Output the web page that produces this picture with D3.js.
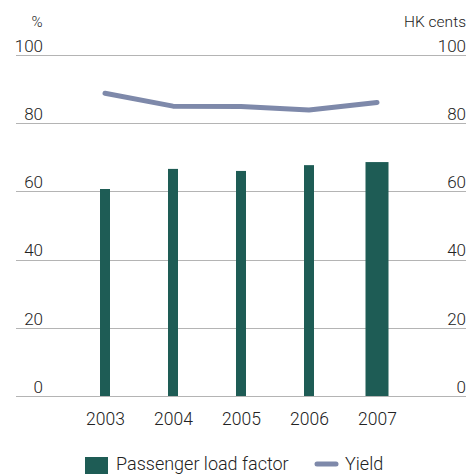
<!DOCTYPE html>
<html>
<head>
<meta charset="utf-8">
<script src="https://cdn.jsdelivr.net/npm/d3@7"></script>
<style>
  html, body { margin: 0; padding: 0; background: #fff; }
  svg { display: block; font-family: Roboto, "Liberation Sans", sans-serif; font-weight: 300; }
</style>
</head>
<body>
<svg id="chart" width="468" height="474"></svg>
<script>
// Passenger load factor (%) and yield (HK cents), 2003–2007
const years = ["2003", "2004", "2005", "2006", "2007"];
const loadFactor = [60.7, 66.6, 66.0, 67.7, 68.6];
const yieldCents = [88.8, 85.0, 84.9, 83.9, 86.1];
const ticks = [0, 20, 40, 60, 80, 100];

const svg = d3.select("#chart");
const textColor = "#222";
const barColor = "#1e5c55";
const lineColor = "#7e89aa";
const gridColor = "#b4b4b4";

const left = 16, right = 466;
const y = d3.scaleLinear().domain([0, 100]).range([396, 55]);
const x = d3.scalePoint().domain(years).range([105, 377]);

// Grid lines
svg.append("g").selectAll("line").data(ticks).join("line")
  .attr("x1", left).attr("x2", right)
  .attr("y1", d => Math.round(y(d)) + 0.5).attr("y2", d => Math.round(y(d)) + 0.5)
  .attr("stroke", gridColor).attr("stroke-width", 1.2);

// Left and right tick labels
const leftAxis = d3.axisLeft(y).tickValues(ticks).tickSize(0).tickPadding(0);
const gl = svg.append("g").attr("transform", "translate(43,0)").call(leftAxis);
const rightAxis = d3.axisLeft(y).tickValues(ticks).tickSize(0).tickPadding(0);
const gr = svg.append("g").attr("transform", `translate(${right},0)`).call(rightAxis);
[gl, gr].forEach(g => {
  g.select(".domain").remove();
  g.selectAll("text")
    .attr("dy", "-0.22em")
    .attr("fill", textColor)
    .style("font-size", "17px")
    .style("font-family", "Roboto, 'Liberation Sans', sans-serif")
    .style("font-weight", 300);
});

// Unit labels
svg.append("text").attr("x", 37).attr("y", 27).attr("text-anchor", "middle")
  .attr("fill", textColor).style("font-size", "15px").text("%");
svg.append("text").attr("x", right).attr("y", 27).attr("text-anchor", "end")
  .attr("fill", textColor).style("font-size", "15.5px").text("HK cents");

// Bars: the latest year is drawn wider
const barW = (d, i) => i === years.length - 1 ? 23 : 10;
svg.append("g").selectAll("rect").data(loadFactor).join("rect")
  .attr("x", (d, i) => x(years[i]) - barW(d, i) / 2)
  .attr("width", barW)
  .attr("y", d => y(d))
  .attr("height", d => y(0) - y(d))
  .attr("fill", barColor);

// Year labels
const xAxis = d3.axisBottom(x).tickSize(0).tickPadding(0);
const gx = svg.append("g").attr("transform", "translate(0,409)").call(xAxis);
gx.select(".domain").remove();
gx.selectAll("text")
  .attr("dy", "0.9em")
  .attr("fill", textColor)
  .style("font-size", "17.5px")
  .style("font-family", "Roboto, 'Liberation Sans', sans-serif")
  .style("font-weight", 300);

// Yield line
const line = d3.line().x((d, i) => x(years[i])).y(d => y(d));
svg.append("path").datum(yieldCents)
  .attr("d", line)
  .attr("fill", "none")
  .attr("stroke", lineColor)
  .attr("stroke-width", 5)
  .attr("stroke-linecap", "round")
  .attr("stroke-linejoin", "round");

// Legend
const lg = svg.append("g");
lg.append("rect").attr("x", 85).attr("y", 457).attr("width", 23).attr("height", 20).attr("fill", barColor);
lg.append("text").attr("x", 116).attr("y", 470).attr("fill", textColor)
  .style("font-size", "18px").text("Passenger load factor");
lg.append("line").attr("x1", 317).attr("x2", 336).attr("y1", 464).attr("y2", 464)
  .attr("stroke", lineColor).attr("stroke-width", 5).attr("stroke-linecap", "round");
lg.append("text").attr("x", 345).attr("y", 470).attr("fill", textColor)
  .style("font-size", "18px").text("Yield");
</script>
</body>
</html>
